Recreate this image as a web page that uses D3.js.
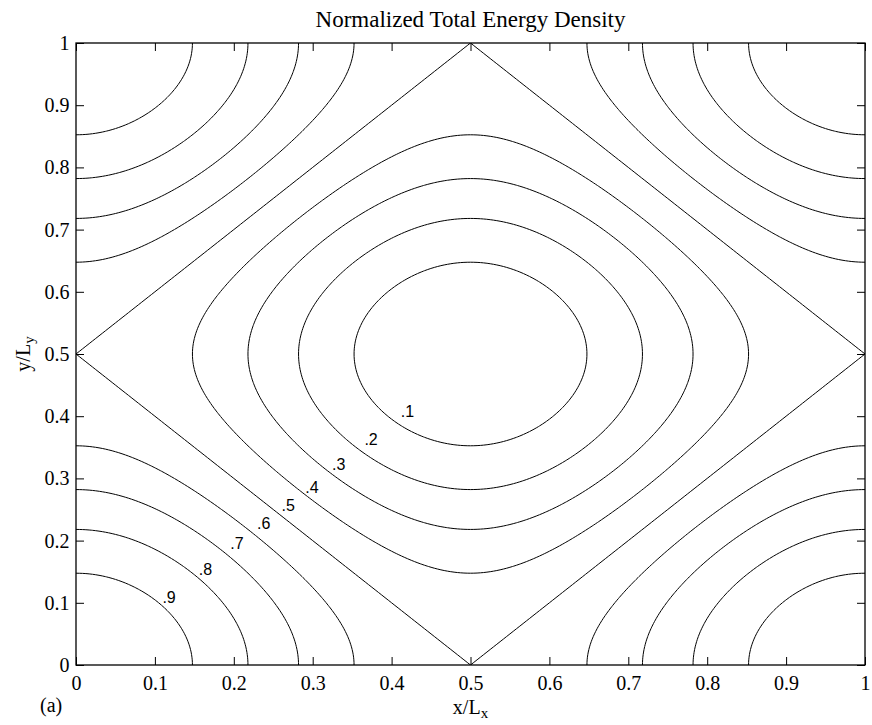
<!DOCTYPE html>
<html>
<head>
<meta charset="utf-8">
<script src="https://cdn.jsdelivr.net/npm/d3@7"></script>
<style>
  html, body { margin: 0; padding: 0; background: #fff; }
  svg { display: block; }
</style>
</head>
<body>
<svg id="chart" width="872" height="725"></svg>
<script>
// ---- data ----
const title = "Normalized Total Energy Density";
const levels = [0.1, 0.2, 0.3, 0.4, 0.5, 0.6, 0.7, 0.8, 0.9];
const levelLabels = [".1", ".2", ".3", ".4", ".5", ".6", ".7", ".8", ".9"];
// label anchor positions (x/Lx, y/Ly)
const labelX = [0.420, 0.374, 0.333, 0.299, 0.269, 0.238, 0.204, 0.164, 0.118];
const labelY = [0.407, 0.363, 0.323, 0.286, 0.257, 0.228, 0.195, 0.153, 0.108];
const xTicks = [0, 0.1, 0.2, 0.3, 0.4, 0.5, 0.6, 0.7, 0.8, 0.9, 1];
const yTicks = [0, 0.1, 0.2, 0.3, 0.4, 0.5, 0.6, 0.7, 0.8, 0.9, 1];
const xTickLabels = ["0", "0.1", "0.2", "0.3", "0.4", "0.5", "0.6", "0.7", "0.8", "0.9", "1"];
const yTickLabels = ["0", "0.1", "0.2", "0.3", "0.4", "0.5", "0.6", "0.7", "0.8", "0.9", "1"];
// normalized energy density field of the (1,1) mode
const energy = (x, y) => (Math.cos(Math.PI * x) ** 2 + Math.cos(Math.PI * y) ** 2) / 2;
const gridN = 241;

// ---- layout ----
const svg = d3.select("#chart");
const L = 76, R = 865, T = 43, B = 665;
const x = d3.scaleLinear().domain([0, 1]).range([L, R]);
const y = d3.scaleLinear().domain([0, 1]).range([B, T]);
const serif = "'Liberation Serif', 'Times New Roman', Times, serif";
const sans = "'Liberation Sans', Arial, Helvetica, sans-serif";

svg.append("rect").attr("width", 872).attr("height", 725).attr("fill", "#fff");

// ---- contour field ----
const values = new Array(gridN * gridN);
for (let j = 0; j < gridN; j++) {
  for (let i = 0; i < gridN; i++) {
    values[j * gridN + i] = energy(i / (gridN - 1), j / (gridN - 1));
  }
}
const contours = d3.contours().size([gridN, gridN]).thresholds(levels)(values);
const proj = d3.geoTransform({
  point: function (px, py) {
    this.stream.point(x((px - 0.5) / (gridN - 1)), y((py - 0.5) / (gridN - 1)));
  }
});
const path = d3.geoPath(proj);

svg.append("clipPath").attr("id", "plotclip")
  .append("rect").attr("x", L).attr("y", T).attr("width", R - L).attr("height", B - T);

svg.append("g").attr("clip-path", "url(#plotclip)")
  .selectAll("path").data(contours).join("path")
  .attr("d", path)
  .attr("fill", "none")
  .attr("stroke", "#000")
  .attr("stroke-width", 1);

// ---- contour labels ----
svg.append("g").selectAll("text").data(levelLabels).join("text")
  .attr("x", (d, i) => x(labelX[i]))
  .attr("y", (d, i) => y(labelY[i]))
  .attr("text-anchor", "middle")
  .attr("dominant-baseline", "central")
  .attr("font-family", sans)
  .attr("font-size", 16)
  .attr("fill", "#000")
  .text(d => d);

// ---- axes ----
const tickLen = 8;
const xAxisB = d3.axisBottom(x).tickValues(xTicks).tickFormat((d, i) => xTickLabels[i])
  .tickSizeInner(-tickLen).tickSizeOuter(0).tickPadding(11);
const xAxisT = d3.axisTop(x).tickValues(xTicks).tickFormat("")
  .tickSizeInner(-tickLen).tickSizeOuter(0);
const yAxisL = d3.axisLeft(y).tickValues(yTicks).tickFormat((d, i) => yTickLabels[i])
  .tickSizeInner(-tickLen).tickSizeOuter(0).tickPadding(6.5);
const yAxisR = d3.axisRight(y).tickValues(yTicks).tickFormat("")
  .tickSizeInner(-tickLen).tickSizeOuter(0);

function styleAxis(g) {
  g.selectAll("path.domain").remove();
  g.selectAll("line").attr("stroke", "#000").attr("stroke-width", 1);
  g.selectAll("text").attr("font-family", serif).attr("font-size", 20).attr("fill", "#000");
}
svg.append("g").attr("transform", `translate(0,${B})`).call(xAxisB).call(styleAxis);
svg.append("g").attr("transform", `translate(0,${T})`).call(xAxisT).call(styleAxis);
svg.append("g").attr("transform", `translate(${L},0)`).call(yAxisL).call(styleAxis);
svg.append("g").attr("transform", `translate(${R},0)`).call(yAxisR).call(styleAxis);

// box
svg.append("rect").attr("x", L).attr("y", T).attr("width", R - L).attr("height", B - T)
  .attr("fill", "none").attr("stroke", "#000").attr("stroke-width", 1.3);

// ---- titles ----
svg.append("text").attr("x", (L + R) / 2).attr("y", 27)
  .attr("text-anchor", "middle").attr("font-family", serif).attr("font-size", 23)
  .attr("fill", "#000").text(title);

const xl = svg.append("text").attr("x", (L + R) / 2).attr("y", 714)
  .attr("text-anchor", "middle").attr("font-family", serif).attr("font-size", 20).attr("fill", "#000");
xl.append("tspan").text("x/L");
xl.append("tspan").attr("baseline-shift", "-25%").attr("font-size", 15).text("x");

const yl = svg.append("text").attr("transform", `translate(30,${(T + B) / 2}) rotate(-90)`)
  .attr("text-anchor", "middle").attr("font-family", serif).attr("font-size", 20).attr("fill", "#000");
yl.append("tspan").text("y/L");
yl.append("tspan").attr("baseline-shift", "-25%").attr("font-size", 15).text("y");

svg.append("text").attr("x", 40).attr("y", 712)
  .attr("font-family", serif).attr("font-size", 20).attr("fill", "#000").text("(a)");
</script>
</body>
</html>
